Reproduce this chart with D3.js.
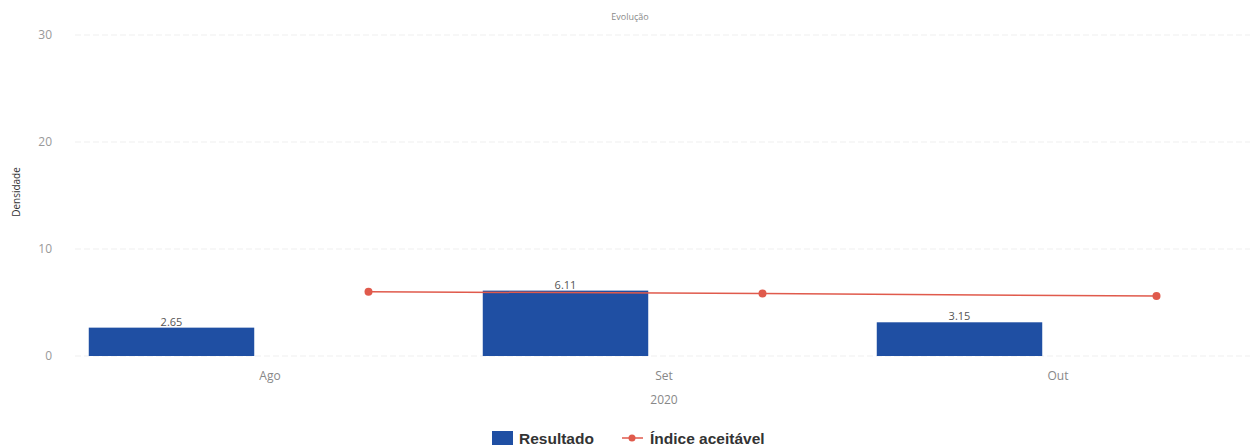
<!DOCTYPE html>
<html><head><meta charset="utf-8">
<script src="https://cdn.jsdelivr.net/npm/d3@7"></script>
<style>body{margin:0;background:#fff}svg{display:block}</style>
</head><body>
<script>
const categories = ["Ago", "Set", "Out"];
const resultado = [2.65, 6.11, 3.15];
const indice = [6.0, 5.85, 5.6];
const yTicks = [0, 10, 20, 30];
const yearLabel = "2020";
const titleText = "Evolução";
const yTitle = "Densidade";
const legendLabels = ["Resultado", "Índice aceitável"];

const W = 1255, H = 448;
const svg = d3.select("body").append("svg").attr("width", W).attr("height", H);
const x = d3.scaleBand().domain(categories).range([73, 1255]);
const y = d3.scaleLinear().domain([0, 30]).range([356, 35]);
const barW = x.bandwidth() * 0.42;
const blue = "#1f4fa3", red = "#e05a4c";

// title
svg.append("text").attr("x", 630).attr("y", 20).attr("text-anchor", "middle")
  .attr("font-family", "Open Sans, sans-serif").attr("font-size", 9).attr("fill", "#8a8a8a").text(titleText);

// grid + y axis
const yAxis = d3.axisLeft(y).tickValues(yTicks).tickSize(0).tickPadding(0).tickFormat(d3.format("d"));
const gy = svg.append("g").attr("transform", "translate(52,0)").call(yAxis);
gy.select(".domain").remove();
gy.selectAll("text").attr("font-family", "Open Sans, sans-serif").attr("font-size", 12).attr("fill", "#999").attr("dy", "0.32em");
svg.append("g").selectAll("line").data(yTicks).join("line")
  .attr("x1", 75).attr("x2", 1250).attr("y1", d => y(d)).attr("y2", d => y(d))
  .attr("stroke", "#efefef").attr("stroke-width", 1).attr("stroke-dasharray", "6,3");

// y title
svg.append("text").attr("transform", "translate(20,192) rotate(-90)").attr("text-anchor", "middle")
  .attr("font-family", "Open Sans, sans-serif").attr("font-size", 10).attr("fill", "#333").text(yTitle);

// bars
const bx = c => x(c) + x.bandwidth() * 0.25;
svg.append("g").selectAll("rect").data(categories).join("rect")
  .attr("x", (c) => bx(c) - barW / 2).attr("width", barW)
  .attr("y", (c, i) => y(resultado[i])).attr("height", (c, i) => y(0) - y(resultado[i]))
  .attr("fill", blue);
svg.append("g").selectAll("text").data(categories).join("text")
  .attr("x", c => bx(c)).attr("y", (c, i) => y(resultado[i]) - 2).attr("text-anchor", "middle")
  .attr("font-family", "Open Sans, sans-serif").attr("font-size", 11).attr("fill", "#555")
  .text((c, i) => resultado[i].toFixed(2));

// line
const lx = c => x(c) + x.bandwidth() * 0.75;
const line = d3.line().x((d, i) => lx(categories[i])).y(d => y(d));
svg.append("path").datum(indice).attr("d", line).attr("fill", "none").attr("stroke", red).attr("stroke-width", 1.5);
svg.append("g").selectAll("circle").data(indice).join("circle")
  .attr("cx", (d, i) => lx(categories[i])).attr("cy", d => y(d)).attr("r", 4).attr("fill", red);

// x axis labels
const xAxis = d3.axisBottom(x).tickSize(0).tickPadding(0);
const gx = svg.append("g").attr("transform", "translate(0,376)").call(xAxis);
gx.select(".domain").remove();
gx.selectAll("text").attr("font-family", "Open Sans, sans-serif").attr("font-size", 12).attr("fill", "#888").attr("dy", "0.32em");
svg.append("text").attr("x", x("Set") + x.bandwidth() / 2).attr("y", 404).attr("text-anchor", "middle")
  .attr("font-family", "Open Sans, sans-serif").attr("font-size", 12).attr("fill", "#888").text(yearLabel);

// legend
const lg = svg.append("g");
lg.append("rect").attr("x", 492).attr("y", 431).attr("width", 21).attr("height", 14).attr("fill", blue);
lg.append("text").attr("x", 519).attr("y", 444).attr("font-family", "Liberation Sans, sans-serif").attr("font-weight", "bold")
  .attr("font-size", 15.5).attr("fill", "#333").text(legendLabels[0]);
lg.append("line").attr("x1", 622).attr("x2", 643).attr("y1", 438).attr("y2", 438).attr("stroke", red).attr("stroke-width", 1.5);
lg.append("circle").attr("cx", 632).attr("cy", 438).attr("r", 3.5).attr("fill", red);
lg.append("text").attr("x", 650).attr("y", 444).attr("font-family", "Liberation Sans, sans-serif").attr("font-weight", "bold")
  .attr("font-size", 15.5).attr("fill", "#333").text(legendLabels[1]);
</script>
</body></html>
